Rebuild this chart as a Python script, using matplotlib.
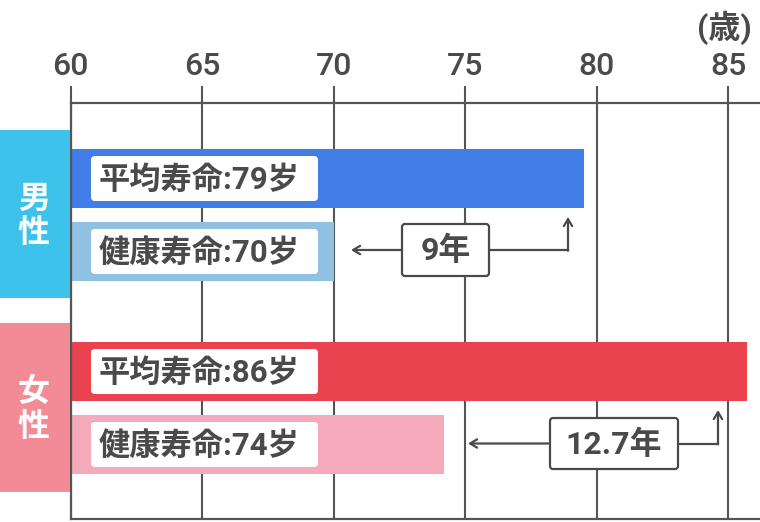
import matplotlib
matplotlib.use("Agg")
import matplotlib.pyplot as plt
from matplotlib.patches import FancyBboxPatch, Rectangle

plt.rcParams['font.family'] = ['Roboto', 'Noto Sans CJK JP', 'DejaVu Sans']

# data
groups = ["男\n性", "女\n性"]
labels = ["平均寿命:79岁", "健康寿命:70岁", "平均寿命:86岁", "健康寿命:74岁"]
values = [79.5, 70.0, 85.7, 74.2]
gaps = ["9年", "12.7年"]
ticks = [60, 65, 70, 75, 80, 85]

bar_colors = ["#417ee8", "#90c1e3", "#e9434f", "#f4aabb"]
group_colors = ["#3cc2eb", "#f38b97"]
dark = "#4a4a4a"

W, H = 760, 522
fig = plt.figure(figsize=(W / 100, H / 100), dpi=100)

# main axes in pixel layout: left 70.7, right 760, top 103, bottom 519
x0, x1, ytop, ybot = 70.7, 760, 103, 519
ax = fig.add_axes([x0 / W, (H - ybot) / H, (x1 - x0) / W, (ybot - ytop) / H])
px_per_unit = 26.3
ax.set_xlim(60, 60 + (x1 - x0) / px_per_unit)
ax.set_ylim(ybot, ytop)

bar_y = [178.5, 251.5, 371.5, 444.5]
ax.barh(bar_y, values, height=59, color=bar_colors, zorder=2)

ax.set_xticks(ticks)
ax.xaxis.tick_top()
ax.tick_params(axis='x', length=12.5, width=1.5, color="#555555", pad=3,
               labelsize=23, labelcolor=dark)
for t in ax.get_xticklabels():
    t.set_fontweight("medium")
ax.set_yticks([])
ax.grid(axis='x', color="#555555", lw=1.5, zorder=1)
ax.set_axisbelow(True)
for s in ["top", "bottom", "left"]:
    ax.spines[s].set_color("#555555")
    ax.spines[s].set_linewidth(1.6)
ax.spines["right"].set_visible(False)

# overlay in pixel coordinates
ov = fig.add_axes([0, 0, 1, 1])
ov.set_xlim(0, W)
ov.set_ylim(H, 0)
ov.axis("off")
ov.patch.set_alpha(0)

# group boxes
for (ya, yb), g, c in zip([(130, 298), (323, 492)], groups, group_colors):
    ov.add_patch(Rectangle((0, ya), 69.5, yb - ya, color=c, lw=0))
    ov.text(34, (ya + yb) / 2 + 2, g, color="white", fontsize=23, weight="bold",
            ha="center", va="center", linespacing=1.2)

# white label boxes inside bars
for yc, lab in zip(bar_y, labels):
    ov.add_patch(FancyBboxPatch((91, yc - 22.5), 227, 45,
                                boxstyle="round,pad=0,rounding_size=4",
                                fc="white", ec="none", zorder=3))
    ov.text(99, yc + 1, lab, color=dark, fontsize=22.5, weight="bold",
            ha="left", va="center", zorder=4)

# gap annotations
ann = [
    # box x0, x1, y0, y1, left arrow x, right corner x, up arrow y
    (402, 489, 224, 276, 351, 568, 217),
    (550, 678, 418, 469, 468, 718, 410),
]
for (bx0, bx1, by0, by1, lx, rx, uy), txt in zip(ann, gaps):
    yc = (by0 + by1) / 2
    ov.annotate("", xy=(lx, yc), xytext=(bx0, yc),
                arrowprops=dict(arrowstyle="->,head_length=0.5,head_width=0.3",
                                color=dark, lw=1.6, shrinkA=0, shrinkB=0), zorder=5)
    ov.plot([bx1, rx], [yc, yc], color=dark, lw=1.6, zorder=5)
    ov.annotate("", xy=(rx, uy), xytext=(rx, yc + 0.8),
                arrowprops=dict(arrowstyle="->,head_length=0.5,head_width=0.3",
                                color=dark, lw=1.6, shrinkA=0, shrinkB=0), zorder=5)
    ov.add_patch(FancyBboxPatch((bx0, by0), bx1 - bx0, by1 - by0,
                                boxstyle="round,pad=0,rounding_size=3",
                                fc="white", ec=dark, lw=1.6, zorder=6))
    ov.text((bx0 + bx1) / 2, yc + 1, txt, color=dark, fontsize=23, weight="bold",
            ha="center", va="center", zorder=7)

ov.text(724, 28, "(歳)", color=dark, fontsize=23, weight="bold",
        ha="center", va="center")

fig.savefig("out.png", dpi=100)
